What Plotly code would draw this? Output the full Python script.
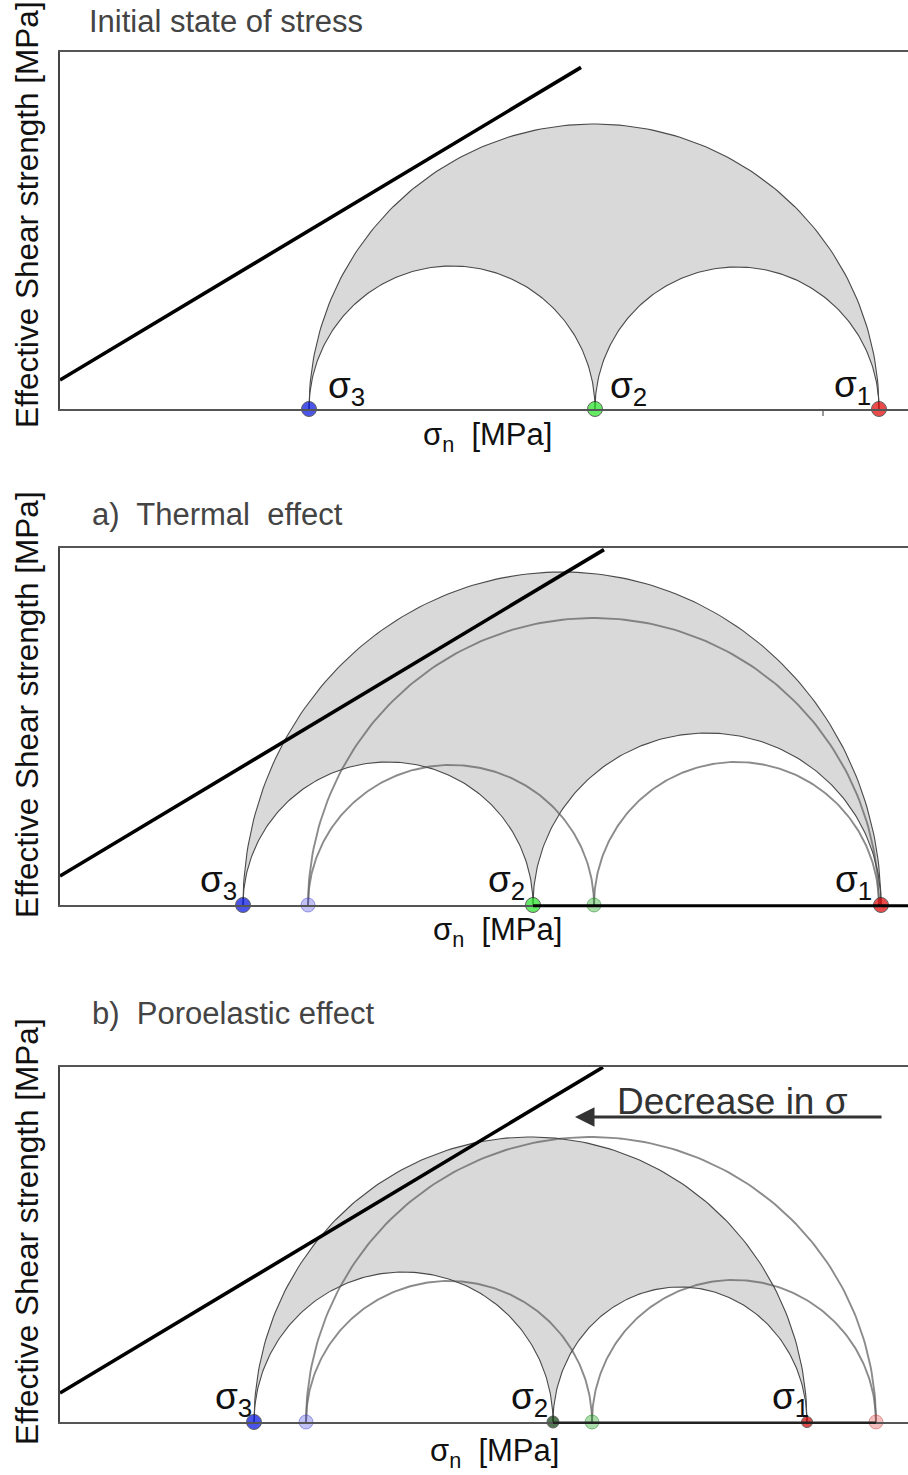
import numpy as np
import plotly.graph_objects as go

W, H = 908, 1475

# ---------------- data (normal stress / shear stress, arbitrary MPa units) ----------------
# principal stresses [sigma3, sigma2, sigma1] and peak shear of [big, left, right] circles
sigma_initial = [24.9, 53.5, 81.9]
tau_initial = [28.5, 14.3, 14.2]

sigma_thermal = [18.3, 47.3, 82.1]
tau_thermal = [33.3, 14.3, 17.2]
sigma_thermal_ref = [24.8, 53.4, 81.9]
tau_thermal_ref = [28.7, 14.0, 14.3]

sigma_poro = [19.4, 49.3, 74.7]
tau_poro = [28.5, 15.0, 13.5]
sigma_poro_ref = [24.6, 53.2, 81.6]
tau_poro_ref = [28.5, 14.1, 14.2]

cohesion = 2.9          # failure envelope intercept
friction = 0.6          # failure envelope slope
envelope_end = [52.1, 54.4, 54.3]

panel_titles = ["Initial state of stress",
                "a)&nbsp; Thermal&nbsp; effect",
                "b)&nbsp; Poroelastic effect"]
sigma_labels = ["σ<sub>3</sub>", "σ<sub>2</sub>", "σ<sub>1</sub>"]
label_pos = [
    [(28.6, 2.1), (56.8, 2.1), (79.2, 2.2)],
    [(15.8, 2.3), (44.6, 2.3), (79.3, 2.3)],
    [(17.3, 2.3), (46.9, 2.3), (73.0, 2.3)],
]
y_label = "Effective Shear strength [MPa]"
x_label = "σ<sub>n</sub> &nbsp;[MPa]"

# ---------------- layout geometry (pixels) ----------------
X0PX = 60
panels = [dict(bottom=409, top=52, ylab=215, xlab=(488, 437), title=(87, 22)),
          dict(bottom=905, top=548, ylab=705, xlab=(497, 932), title=(90, 514)),
          dict(bottom=1422, top=1067, ylab=1232, xlab=(494, 1453), title=(90, 1013))]

XMAX = (W - X0PX) / 10.0

FILL = "#d9d9d9"
EDGE = "#4a4a4a"
FADED = "rgba(100,100,100,0.75)"


def arc(sa, sb, h, reverse=False, n=160):
    c = (sa + sb) / 2.0
    a = (sb - sa) / 2.0
    th = np.linspace(np.pi, 0, n)
    x = c + a * np.cos(th)
    y = h * np.sin(th)
    if reverse:
        x, y = x[::-1], y[::-1]
    return x, y


def px_x(p):
    return p / W


def px_y(p):
    return 1 - p / H


fig = go.Figure()
layout = dict(width=W, height=H, margin=dict(l=0, r=0, t=0, b=0),
              paper_bgcolor="white", plot_bgcolor="white", showlegend=False,
              font=dict(family="Liberation Sans, Arial, sans-serif", color="#222"))
annotations = []
shapes = []

all_new = [(sigma_initial, tau_initial), (sigma_thermal, tau_thermal), (sigma_poro, tau_poro)]
all_ref = [None, (sigma_thermal_ref, tau_thermal_ref), (sigma_poro_ref, tau_poro_ref)]

for i, p in enumerate(panels):
    k = "" if i == 0 else str(i + 1)
    xa, ya = "x" + k, "y" + k
    yr = (p["bottom"] - p["top"]) / 10.0
    layout["xaxis" + k] = dict(domain=[X0PX / W, 1], range=[0, XMAX], anchor=ya,
                               showline=True, linecolor="#555", linewidth=1.5, mirror=True,
                               showgrid=False, zeroline=False, showticklabels=False, ticks="",
                               fixedrange=True)
    layout["yaxis" + k] = dict(domain=[px_y(p["bottom"]), px_y(p["top"])], range=[0, yr],
                               anchor=xa, showline=True, linecolor="#444", linewidth=1.5,
                               showgrid=False, zeroline=False, showticklabels=False, ticks="",
                               fixedrange=True)

    s, t = all_new[i]
    # shaded region between big circle and two small circles
    bx, by = arc(s[0], s[2], t[0])
    rx, ry = arc(s[1], s[2], t[2], reverse=True)
    lx, ly = arc(s[0], s[1], t[1], reverse=True)
    fx = np.concatenate([bx, rx, lx])
    fy = np.concatenate([by, ry, ly])
    fig.add_trace(go.Scatter(x=fx, y=fy, mode="lines", fill="toself", fillcolor=FILL,
                             line=dict(width=0), xaxis=xa, yaxis=ya, hoverinfo="skip"))

    # reference (previous) circles
    if all_ref[i] is not None:
        sr, tr = all_ref[i]
        for (a, b, h) in [(sr[0], sr[2], tr[0]), (sr[0], sr[1], tr[1]), (sr[1], sr[2], tr[2])]:
            cx, cy = arc(a, b, h)
            fig.add_trace(go.Scatter(x=cx, y=cy, mode="lines",
                                     line=dict(color=FADED, width=1.9),
                                     xaxis=xa, yaxis=ya, hoverinfo="skip"))

    # current circles outlines
    for (a, b, h) in [(s[0], s[2], t[0]), (s[0], s[1], t[1]), (s[1], s[2], t[2])]:
        cx, cy = arc(a, b, h)
        fig.add_trace(go.Scatter(x=cx, y=cy, mode="lines",
                                 line=dict(color=EDGE, width=1.1),
                                 xaxis=xa, yaxis=ya, hoverinfo="skip"))

    # failure envelope
    ex = [0, envelope_end[i]]
    ey = [cohesion, cohesion + friction * envelope_end[i]]
    fig.add_trace(go.Scatter(x=ex, y=ey, mode="lines", line=dict(color="black", width=3.6),
                             xaxis=xa, yaxis=ya, hoverinfo="skip"))

    # thick axis segment (panels 2 & 3)
    if i == 1:
        shapes.append(dict(type="line", xref=xa, yref="paper", x0=s[1], x1=XMAX,
                           y0=px_y(p["bottom"] + 0.8), y1=px_y(p["bottom"] + 0.8),
                           line=dict(color="black", width=3)))
    if i == 2:
        shapes.append(dict(type="line", xref=xa, yref="paper", x0=s[1], x1=all_ref[2][0][2],
                           y0=px_y(p["bottom"] + 0.8), y1=px_y(p["bottom"] + 0.8),
                           line=dict(color="#222", width=2.6)))

    # faded reference points
    if all_ref[i] is not None:
        sr, _ = all_ref[i]
        ref_cols = ["rgba(80,80,230,0.35)", "rgba(40,170,40,0.4)", "rgba(230,70,70,0.35)"]
        ref_lines = ["rgba(50,50,200,0.45)", "rgba(20,120,20,0.45)", "rgba(180,40,40,0.4)"]
        n_ref = 2 if i == 1 else 3
        fig.add_trace(go.Scatter(x=sr[:n_ref], y=[0] * n_ref, mode="markers", cliponaxis=False,
                                 marker=dict(size=14, color=ref_cols[:n_ref],
                                             line=dict(color=ref_lines[:n_ref], width=1)),
                                 xaxis=xa, yaxis=ya, hoverinfo="skip"))

    # current points
    if i == 2:
        cols = ["#0010e0", "#0b3d0b", "#d00000"]
        sizes = [15, 12, 11]
    else:
        cols = ["#0010e0", "#22e022", "#e00000"]
        sizes = [15, 15, 15]
    fig.add_trace(go.Scatter(x=s, y=[0, 0, 0], mode="markers", cliponaxis=False,
                             marker=dict(size=sizes, color=cols,
                                         line=dict(color="#222", width=1)),
                             xaxis=xa, yaxis=ya, hoverinfo="skip"))

    # sigma labels
    for j in range(3):
        lxp, lyp = label_pos[i][j]
        annotations.append(dict(x=lxp, y=lyp, xref=xa, yref=ya, text=sigma_labels[j],
                                showarrow=False, xanchor="center", yanchor="middle",
                                font=dict(size=37, color="#111")))

    # panel title
    annotations.append(dict(x=px_x(p["title"][0]), y=px_y(p["title"][1]), xref="paper",
                            yref="paper", text=panel_titles[i], showarrow=False,
                            xanchor="left", yanchor="middle",
                            font=dict(size=31, color="#444")))
    # y label
    annotations.append(dict(x=px_x(27), y=px_y(p["ylab"]), xref="paper", yref="paper",
                            text=y_label, textangle=-90, showarrow=False,
                            xanchor="center", yanchor="middle",
                            font=dict(size=31.5, color="#111")))
    # x label
    annotations.append(dict(x=px_x(p["xlab"][0]), y=px_y(p["xlab"][1]), xref="paper",
                            yref="paper", text=x_label, showarrow=False,
                            xanchor="center", yanchor="middle",
                            font=dict(size=31, color="#111")))

# small tick on first panel axis
shapes.append(dict(type="line", xref="paper", yref="paper", x0=px_x(823), x1=px_x(823),
                   y0=px_y(409), y1=px_y(416), line=dict(color="#555", width=1.2)))

# arrow "Decrease in sigma"
annotations.append(dict(x=51.5, y=30.5, xref="x3", yref="y3", ax=82.3, ay=30.5,
                        axref="x3", ayref="y3", text="", showarrow=True, arrowhead=2,
                        arrowsize=1.3, arrowwidth=3, arrowcolor="#333", standoff=0))
annotations.append(dict(x=px_x(732), y=px_y(1101), xref="paper", yref="paper",
                        text="Decrease in σ", showarrow=False, xanchor="center",
                        yanchor="middle", font=dict(size=37, color="#333")))

layout["annotations"] = annotations
layout["shapes"] = shapes
fig.update_layout(**layout)
fig.write_html("out.html")
